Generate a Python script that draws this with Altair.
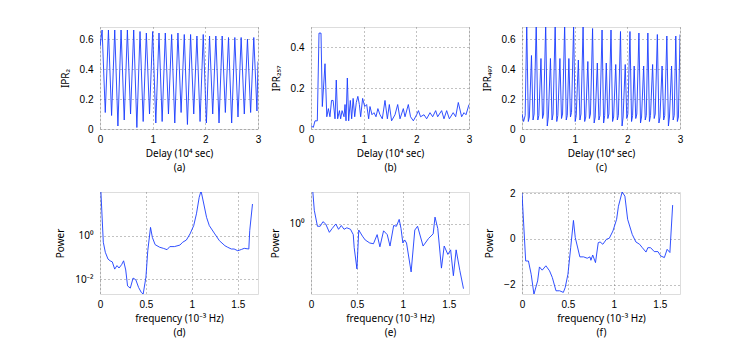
import altair as alt
import pandas as pd

# ---------------- (a) IPR_2 vs delay ----------------
a_x = [0.00, 0.04, 0.10, 0.16, 0.22, 0.28, 0.34, 0.40, 0.46, 0.52, 0.58, 0.64, 0.70,
       0.76, 0.82, 0.88, 0.94, 1.00, 1.06, 1.12, 1.18, 1.24, 1.30, 1.36, 1.42, 1.48,
       1.54, 1.60, 1.66, 1.72, 1.78, 1.84, 1.90, 1.96, 2.02, 2.08, 2.14, 2.20, 2.26,
       2.32, 2.38, 2.44, 2.50, 2.56, 2.62, 2.68, 2.74, 2.80, 2.86, 2.92, 2.98, 3.00]
a_y = [0.55, 0.66, 0.11, 0.66, 0.09, 0.66, 0.02, 0.66, 0.06, 0.66, 0.10, 0.66, 0.01,
       0.65, 0.05, 0.64, 0.10, 0.65, 0.04, 0.64, 0.05, 0.64, 0.10, 0.63, 0.04, 0.64,
       0.11, 0.63, 0.03, 0.63, 0.10, 0.62, 0.05, 0.63, 0.04, 0.62, 0.10, 0.62, 0.04,
       0.62, 0.11, 0.61, 0.04, 0.61, 0.08, 0.61, 0.10, 0.60, 0.11, 0.61, 0.12, 0.45]

# ---------------- (b) IPR_257 vs delay ----------------
b_x = [0.00, 0.044, 0.076, 0.12, 0.152, 0.19, 0.215, 0.266, 0.30, 0.33, 0.36, 0.39,
       0.42, 0.456, 0.48, 0.506, 0.54, 0.563, 0.59, 0.627, 0.646, 0.665, 0.69, 0.715,
       0.747, 0.772, 0.80, 0.83, 0.86, 0.89, 0.918, 0.943, 0.98, 1.02, 1.057, 1.095,
       1.12, 1.158, 1.196, 1.234, 1.27, 1.31, 1.354, 1.405, 1.45, 1.487, 1.53, 1.595,
       1.646, 1.69, 1.753, 1.785, 1.848, 1.89, 1.943, 2.006, 2.04, 2.08, 2.146, 2.196,
       2.26, 2.31, 2.367, 2.405, 2.48, 2.525, 2.576, 2.627, 2.70, 2.747, 2.797, 2.86,
       2.905, 2.943, 3.00]
b_y = [0.016, 0.008, 0.04, 0.04, 0.47, 0.47, 0.11, 0.32, 0.06, 0.10, 0.06, 0.14,
       0.14, 0.05, 0.24, 0.05, 0.09, 0.05, 0.09, 0.06, 0.12, 0.04, 0.25, 0.04,
       0.14, 0.05, 0.15, 0.06, 0.13, 0.16, 0.12, 0.06, 0.15, 0.11, 0.12, 0.05,
       0.11, 0.07, 0.08, 0.06, 0.10, 0.07, 0.05, 0.14, 0.05, 0.12, 0.04, 0.07,
       0.12, 0.05, 0.10, 0.06, 0.12, 0.06, 0.04, 0.07, 0.09, 0.06, 0.07, 0.05,
       0.08, 0.06, 0.09, 0.06, 0.09, 0.05, 0.09, 0.05, 0.08, 0.06, 0.13, 0.06,
       0.08, 0.07, 0.12]

# ---------------- (c) IPR_497 vs delay ----------------
c_x = [0.00, 0.03, 0.06,
       0.09, 0.12, 0.14, 0.18, 0.21, 0.23,
       0.27, 0.30, 0.32, 0.36, 0.39, 0.41,
       0.45, 0.48, 0.50, 0.54, 0.57, 0.59,
       0.63, 0.66, 0.68, 0.72, 0.75, 0.77,
       0.81, 0.84, 0.86, 0.89, 0.92, 0.94,
       0.98, 1.01, 1.03, 1.07, 1.10, 1.12,
       1.16, 1.19, 1.21, 1.25, 1.28, 1.30,
       1.34, 1.37, 1.39, 1.43, 1.46, 1.48,
       1.52, 1.55, 1.57, 1.60, 1.63, 1.65,
       1.69, 1.72, 1.74, 1.78, 1.81, 1.83,
       1.87, 1.90, 1.92, 1.96, 1.99, 2.01,
       2.05, 2.08, 2.10, 2.13, 2.16, 2.18,
       2.22, 2.25, 2.27, 2.31, 2.34, 2.36,
       2.39, 2.42, 2.44, 2.48, 2.51, 2.53,
       2.57, 2.60, 2.62, 2.66, 2.69, 2.71,
       2.75, 2.78, 2.80, 2.84, 2.87, 2.89,
       2.92, 2.95, 2.97, 3.00]
c_y = [0.10, 0.05, 0.09,
       0.70, 0.05, 0.08, 0.49, 0.06, 0.10,
       0.70, 0.06, 0.09, 0.47, 0.07, 0.10,
       0.70, 0.02, 0.08, 0.47, 0.06, 0.10,
       0.70, 0.05, 0.09, 0.47, 0.07, 0.10,
       0.70, 0.06, 0.09, 0.47, 0.08, 0.11,
       0.69, 0.05, 0.09, 0.46, 0.06, 0.10,
       0.68, 0.05, 0.08, 0.45, 0.07, 0.10,
       0.67, 0.04, 0.08, 0.44, 0.06, 0.09,
       0.66, 0.04, 0.09, 0.44, 0.07, 0.10,
       0.66, 0.05, 0.08, 0.43, 0.06, 0.09,
       0.65, 0.02, 0.08, 0.43, 0.07, 0.10,
       0.65, 0.05, 0.09, 0.42, 0.07, 0.10,
       0.64, 0.04, 0.08, 0.42, 0.06, 0.09,
       0.64, 0.05, 0.09, 0.43, 0.07, 0.10,
       0.63, 0.04, 0.08, 0.42, 0.06, 0.09,
       0.62, 0.02, 0.08, 0.42, 0.06, 0.09,
       0.62, 0.05, 0.08, 0.63]

# ---------------- (d) power spectrum of IPR_2 (log10 of power) ----------------
d_f = [0.01, 0.036, 0.058, 0.087, 0.11, 0.134, 0.16, 0.185, 0.207, 0.235, 0.257,
       0.28, 0.30, 0.33, 0.36, 0.39, 0.42, 0.45, 0.47, 0.50, 0.52, 0.55, 0.57,
       0.60, 0.65, 0.69, 0.73, 0.76, 0.81, 0.87, 0.90, 0.94, 0.98, 1.02, 1.05,
       1.08, 1.10, 1.13, 1.16, 1.19, 1.25, 1.30, 1.36, 1.39, 1.43, 1.46, 1.50,
       1.54, 1.57, 1.62, 1.63, 1.66]
d_logp = [2.0, -0.3, -0.76, -1.07, -1.15, -1.2, -1.53, -1.37, -1.48, -1.33, -1.15,
          -1.57, -2.3, -2.4, -1.94, -2.02, -2.37, -2.6, -2.67, -1.9, -0.69, 0.38, -0.08,
          -0.41, -0.53, -0.58, -0.64, -0.5, -0.5, -0.43, -0.3, -0.2, 0.08, 0.46, 1.0,
          1.76, 2.05, 1.45, 0.84, 0.46, 0.08, -0.23, -0.46, -0.53, -0.61, -0.61, -0.69,
          -0.63, -0.58, -0.61, 0.23, 1.45]

# ---------------- (e) power spectrum of IPR_257 (log10 of power) ----------------
e_f = [0.02, 0.036, 0.07, 0.10, 0.13, 0.16, 0.20, 0.23, 0.27, 0.30, 0.33, 0.36,
       0.39, 0.43, 0.46, 0.47, 0.50, 0.52, 0.56, 0.59, 0.64, 0.68, 0.72, 0.75,
       0.79, 0.83, 0.86, 0.90, 0.93, 0.96, 0.98, 1.00, 1.02, 1.04, 1.09, 1.13,
       1.16, 1.22, 1.28, 1.33, 1.35, 1.38, 1.42, 1.45, 1.49, 1.52, 1.55, 1.58,
       1.62, 1.66]
e_logp = [0.42, 0.18, -0.03, -0.03, 0.03, 0.0, -0.11, -0.06, 0.0, -0.07, -0.02, -0.07,
          -0.05, -0.07, -0.14, -0.31, -0.59, -0.08, -0.16, -0.21, -0.25, -0.26, -0.14, -0.30,
          -0.09, -0.14, -0.29, -0.02, -0.03, 0.06, -0.06, -0.25, -0.21, -0.25, -0.63, -0.08,
          -0.03, -0.29, -0.19, -0.13, 0.09, -0.06, -0.58, -0.29, -0.40, -0.34, -0.68, -0.34,
          -0.61, -0.85]

# ---------------- (f) power spectrum of IPR_497 ----------------
f_f = [0.0, 0.04, 0.07, 0.10, 0.13, 0.17, 0.19, 0.22, 0.26, 0.30, 0.33, 0.37, 0.41,
       0.45, 0.47, 0.50, 0.53, 0.56, 0.58, 0.63, 0.67, 0.71, 0.74, 0.75, 0.77, 0.80,
       0.83, 0.85, 0.88, 0.92, 0.95, 0.99, 1.03, 1.05, 1.09, 1.12, 1.15, 1.20, 1.24,
       1.28, 1.31, 1.35, 1.37, 1.40, 1.44, 1.48, 1.51, 1.55, 1.58, 1.61, 1.64]
f_p = [2.0, -0.96, -0.96, -1.54, -2.41, -1.83, -1.22, -1.36, -1.17, -1.39, -1.68, -2.26,
       -2.26, -2.33, -2.12, -1.54, -0.38, 0.81, 0.06, -0.78, -0.78, -0.84, -0.78, -0.93,
       -0.70, -1.03, -0.16, -0.13, -0.23, -0.01, 0.03, 0.35, 0.86, 1.43, 2.05, 1.87, 0.86,
       0.20, -0.13, -0.23, -0.38, -0.57, -0.38, -0.38, -0.55, -0.55, -0.74, -0.81, -0.45,
       -0.59, 1.48]

BLUE = "#1a3cff"
W, H = 158, 102
FONT = "Liberation Sans"
SFONT = "Noto Sans"   # has legible super/subscript digits

AX = dict(
    grid=True, gridColor="#555555", gridDash=[1, 3], gridOpacity=0.9, gridWidth=0.8,
    domain=False, ticks=False,
    labelFont=FONT, labelFontSize=10, labelColor="black", labelFontWeight="normal",
    titleFont=SFONT, titleFontSize=10, titleFontWeight="normal", titleColor="black",
    titleLineHeight=14, format="~g",
)


def panel(xs, ys, xdom, ydom, xticks, yticks, xtitle, ytitle, ylog=False, ylabels=None):
    df = pd.DataFrame({"x": xs, "y": ys})
    yscale = alt.Scale(domain=ydom, nice=False, zero=False, type="log" if ylog else "linear")
    ykw = dict(AX, values=yticks, title=ytitle, labelPadding=7, titlePadding=9)
    if ylabels is not None:
        ykw["labelExpr"] = ylabels
        ykw["labelFont"] = SFONT
    xkw = dict(AX, values=xticks, title=xtitle, labelFlush=False, labelPadding=5, titlePadding=4)
    return (
        alt.Chart(df)
        .mark_line(color=BLUE, strokeWidth=0.9, clip=True)
        .encode(
            x=alt.X("x:Q", scale=alt.Scale(domain=xdom, nice=False, zero=False),
                    axis=alt.Axis(**xkw)),
            y=alt.Y("y:Q", scale=yscale, axis=alt.Axis(**ykw)),
        )
        .properties(width=W, height=H)
    )


delay_x = [0, 1, 2, 3]
freq_x = [0, 0.5, 1, 1.5]

pa = panel(a_x, a_y, [0, 3], [0, 0.68], delay_x, [0, 0.2, 0.4, 0.6],
           ["Delay (10⁴ sec)", "(a)"], "IPR₂")
pb = panel(b_x, b_y, [0, 3], [0, 0.5], delay_x, [0, 0.2, 0.4],
           ["Delay (10⁴ sec)", "(b)"], "IPR₂₅₇")
pc = panel(c_x, c_y, [0, 3], [0, 0.68], delay_x, [0, 0.2, 0.4, 0.6],
           ["Delay (10⁴ sec)", "(c)"], "IPR₄₉₇")

d_pow = [10 ** v for v in d_logp]
e_pow = [10 ** v for v in e_logp]

pd_ = panel(d_f, d_pow, [0, 1.72], [10 ** -2.67, 10 ** 2.0], freq_x, [0.01, 1],
            ["frequency (10⁻³ Hz)", "(d)"], "Power", ylog=True,
            ylabels="datum.value >= 0.5 ? '10⁰' : '10⁻²'")
pe = panel(e_f, e_pow, [0, 1.72], [10 ** -0.92, 10 ** 0.42], freq_x, [1],
           ["frequency (10⁻³ Hz)", "(e)"], "Power", ylog=True,
           ylabels="'10⁰'")
pf = panel(f_f, f_p, [0, 1.72], [-2.4, 2.05], freq_x, [-2, 0, 2],
           ["frequency (10⁻³ Hz)", "(f)"], "Power")

chart = (
    alt.concat(pa, pb, pc, pd_, pe, pf, columns=3,
               spacing={"row": 63, "column": 53}, bounds="flush")
    .properties(padding={"left": 47, "top": 18, "right": 5, "bottom": 2})
    .configure_view(stroke="black", strokeWidth=1)
    .configure(background="white")
)

chart.save("out.html", embed_options={"renderer": "svg", "actions": False})
